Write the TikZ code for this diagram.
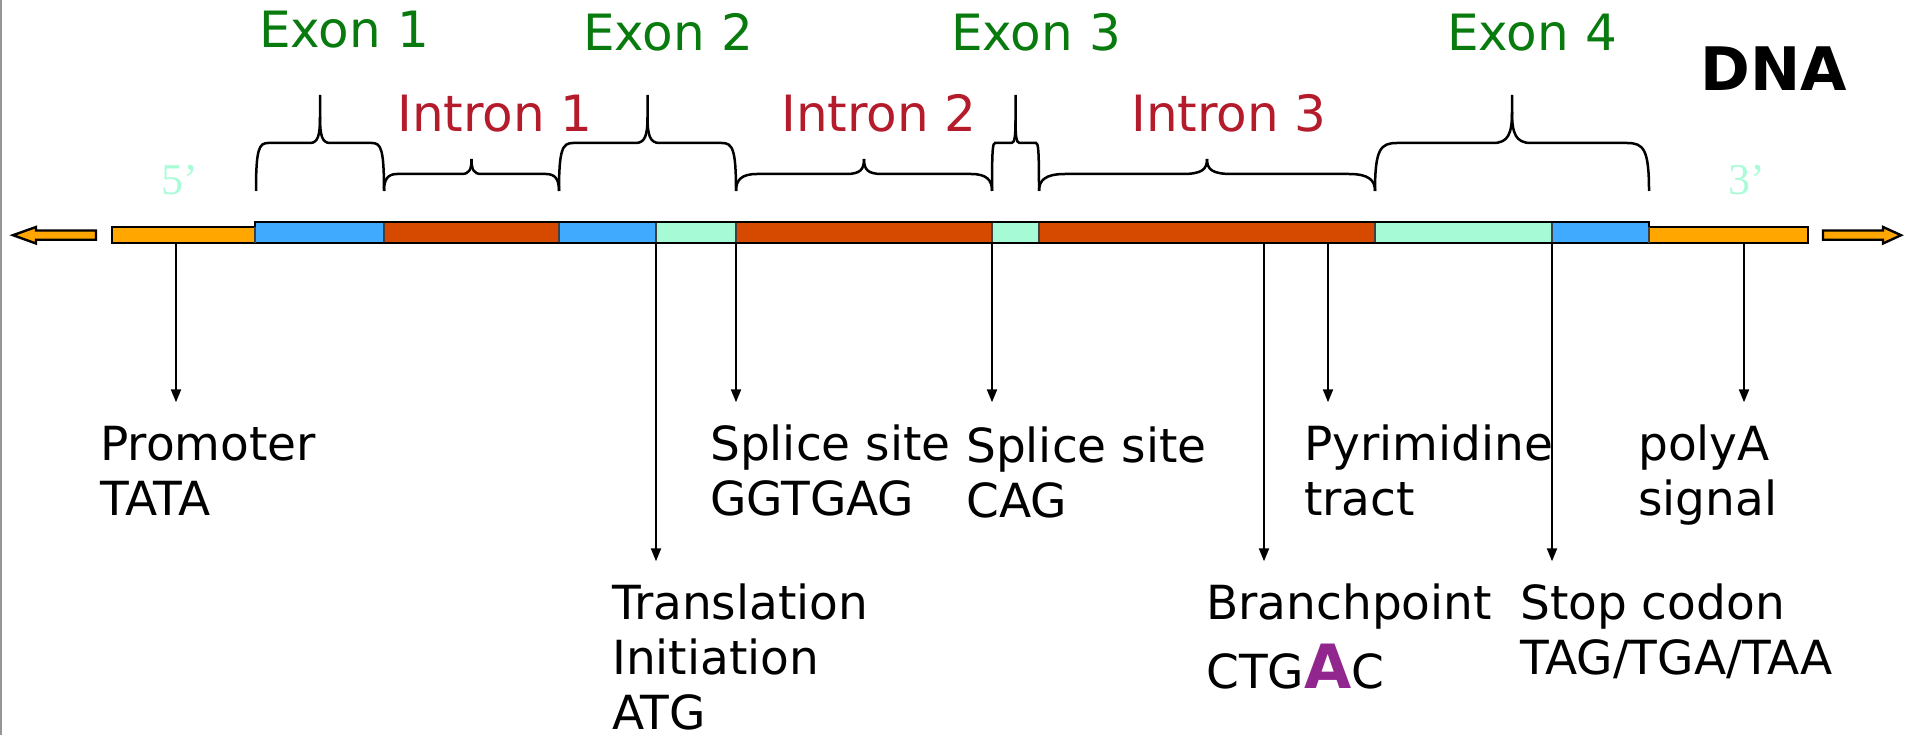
\documentclass[tikz,border=0pt]{standalone}
\usepackage{fontspec}
\setmainfont{DejaVu Sans}
\newfontfamily\endfont{Liberation Serif}
\usetikzlibrary{arrows.meta}
\definecolor{utr}{RGB}{255,166,0}
\definecolor{cds}{RGB}{64,170,255}
\definecolor{intr}{RGB}{214,74,0}
\definecolor{ncx}{RGB}{166,250,214}
\definecolor{exontxt}{RGB}{8,122,14}
\definecolor{introntxt}{RGB}{180,28,44}
\definecolor{endtxt}{RGB}{170,252,215}
\definecolor{bpA}{RGB}{146,38,143}
\definecolor{frame}{RGB}{150,150,150}
% #1 x0, #2 x1, #3 y of horizontal, #4 y where tip curve ends, #5 tip y, #6 end radius, #7 tip radius
\newcommand\dnabrace[7]{%
  \draw[bracestyle] (#1,191) .. controls (#1,#3+6) and (#1+0.25*#6,#3) .. (#1+#6,#3)
    -- ({(#1+#2)/2-#7},#3) .. controls ({(#1+#2)/2-0.2*#7},#3) and ({(#1+#2)/2},{#3-0.3*(#3-#4)}) .. ({(#1+#2)/2},#4) -- ({(#1+#2)/2},#5);
  \draw[bracestyle] (#2,191) .. controls (#2,#3+6) and (#2-0.25*#6,#3) .. (#2-#6,#3)
    -- ({(#1+#2)/2+#7},#3) .. controls ({(#1+#2)/2+0.2*#7},#3) and ({(#1+#2)/2},{#3-0.3*(#3-#4)}) .. ({(#1+#2)/2},#4);
}
\begin{document}
\begin{tikzpicture}[x=1pt,y=-1pt,
  bracestyle/.style={draw=black,line width=2.5pt},
  divider/.style={draw=black!75,line width=1.5pt},
  outline/.style={draw=black,line width=2.8pt,line join=miter},
  pointer/.style={draw=black,line width=2pt,-{Triangle[length=13pt,width=10pt]},shorten >=22pt},
  lab/.style={inner sep=0pt,align=left,anchor=north west,font=\fontsize{47}{55}\selectfont},
  exonlab/.style={inner sep=0pt,anchor=base,text=exontxt,font=\fontsize{50}{50}\selectfont},
  intronlab/.style={inner sep=0pt,anchor=base,text=introntxt,font=\fontsize{50}{50}\selectfont},
  endlab/.style={inner sep=0pt,anchor=base,text=endtxt,font=\endfont\fontsize{44}{44}\selectfont},
  endarrow/.style={draw=black,fill=utr,line width=2.4pt,line join=miter}]
\useasboundingbox (0,0) rectangle (1905,735);
\draw[frame,line width=2pt] (1,0) -- (1,735);

% end arrows
\draw[endarrow] (96,230.5) -- (36,230.5) -- (36,227) -- (13,235.2) -- (36,243.5) -- (36,239.8) -- (96,239.8) -- cycle;
\draw[endarrow] (1823,230.5) -- (1883,230.5) -- (1883,227) -- (1901,235.2) -- (1883,243.5) -- (1883,239.8) -- (1823,239.8) -- cycle;

% bar segments
\fill[utr] (112,227) rectangle (255,243);
\fill[cds] (255,222) rectangle (384,243);
\fill[intr] (384,222) rectangle (559,243);
\fill[cds] (559,222) rectangle (656,243);
\fill[ncx] (656,222) rectangle (736,243);
\fill[intr] (736,222) rectangle (992,243);
\fill[ncx] (992,222) rectangle (1039,243);
\fill[intr] (1039,222) rectangle (1375,243);
\fill[ncx] (1375,222) rectangle (1552,243);
\fill[cds] (1552,222) rectangle (1649,243);
\fill[utr] (1649,227) rectangle (1808,243);
\foreach \xd in {384,559,656,736,992,1039,1375,1552}
  \draw[divider] (\xd,222) -- (\xd,243);
\draw[outline] (112,227) -- (255,227) -- (255,222) -- (1649,222) -- (1649,227) -- (1808,227) -- (1808,243) -- (112,243) -- cycle;
\draw[divider] (255,227) -- (255,243);
\draw[divider] (1649,227) -- (1649,243);

% braces
\dnabrace{256}{384}{143}{117}{95}{12}{10}
\dnabrace{384}{559}{174}{159}{159}{13}{10}
\dnabrace{559}{736}{143}{117}{95}{14}{12}
\dnabrace{736}{992}{174}{159}{159}{21}{18}
\dnabrace{992}{1039}{143}{120}{95}{3}{4}
\dnabrace{1039}{1375}{174}{159}{159}{26}{25}
\dnabrace{1375}{1649}{143}{112}{95}{22}{19}

% top labels
\node[exonlab] (exon1) at (344,48) {Exon 1};
\node[exonlab] (exon2) at (668,51) {Exon 2};
\node[exonlab] (exon3) at (1036,51) {Exon 3};
\node[exonlab] (exon4) at (1532,51) {Exon 4};
\node[intronlab] (intron1) at (495,132) {Intron 1};
\node[intronlab] (intron2) at (879,132) {Intron 2};
\node[intronlab] (intron3) at (1229,132) {Intron 3};
\node[inner sep=0pt,anchor=base,font=\bfseries\fontsize{60}{60}\selectfont] (dna) at (1774,91) {DNA};
\node[endlab] (five) at (180,195) {5’};
\node[endlab] (three) at (1747,195) {3’};

% feature points on the bar
\coordinate (pPromoter) at (176,243);
\coordinate (pTransl) at (656,243);
\coordinate (pSplice1) at (736,243);
\coordinate (pSplice2) at (992,243);
\coordinate (pBranch) at (1264,243);
\coordinate (pPyr) at (1328,243);
\coordinate (pStop) at (1552,243);
\coordinate (pPolyA) at (1744,243);

% bottom labels (north = first baseline - 35.7)
\node[lab] (promoter) at (100,424.3) {\vphantom{l}Promoter\\TATA};
\node[lab] (transl) at (612,583.3) {\vphantom{l}Translation\\Initiation\\ATG};
\node[lab] (splice1) at (710,424.3) {\vphantom{l}Splice site\\GGTGAG};
\node[lab] (splice2) at (966,426.3) {\vphantom{l}Splice site\\CAG};
\node[lab] (branch) at (1206,583.3) {\vphantom{l}Branchpoint\\[14pt]CTG{\color{bpA}\bfseries\fontsize{61}{61}\selectfont A}C};
\node[lab] (pyr) at (1304,424.3) {\vphantom{l}Pyrimidine\\tract};
\node[lab] (stop) at (1520,583.3) {\vphantom{l}Stop codon\\TAG/TGA/TAA};
\node[lab] (polya) at (1638,424.3) {\vphantom{l}polyA\\signal};

% pointers
\draw[pointer] (pPromoter) -- (pPromoter |- promoter.north);
\draw[pointer] (pTransl) -- (pTransl |- transl.north);
\draw[pointer] (pSplice1) -- (pSplice1 |- splice1.north);
\draw[pointer] (pSplice2) -- (pSplice2 |- splice1.north);
\draw[pointer] (pBranch) -- (pBranch |- branch.north);
\draw[pointer] (pPyr) -- (pPyr |- pyr.north);
\draw[pointer] (pStop) -- (pStop |- stop.north);
\draw[pointer] (pPolyA) -- (pPolyA |- polya.north);
\end{tikzpicture}
\end{document}
